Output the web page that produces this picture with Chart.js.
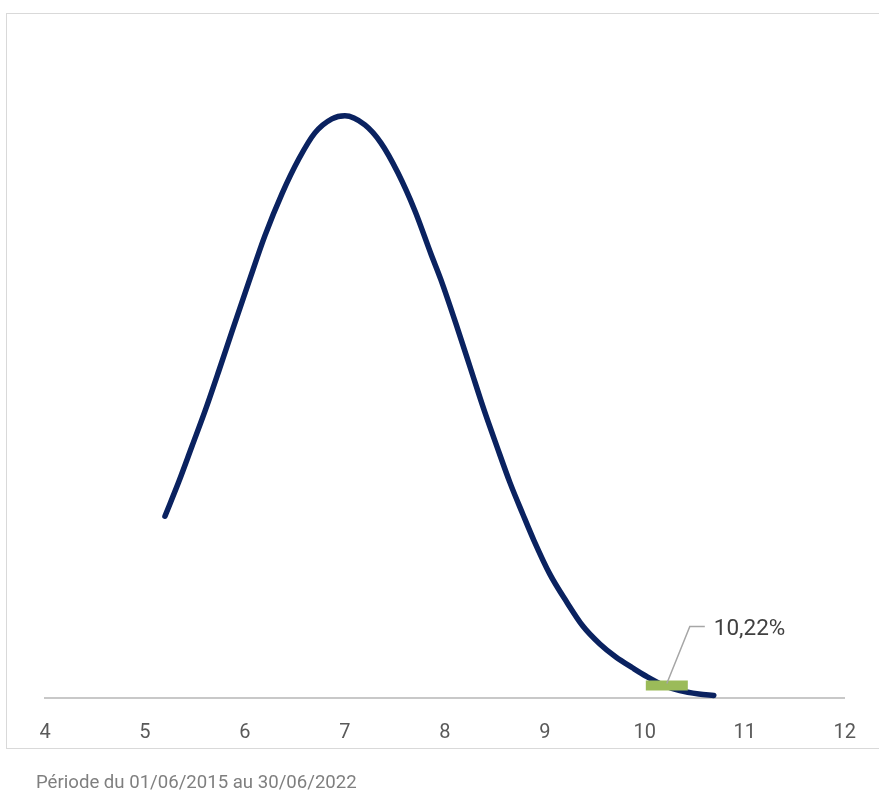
<!DOCTYPE html>
<html>
<head>
<meta charset="utf-8">
<script src="https://cdn.jsdelivr.net/npm/chart.js@4"></script>
<style>
  html, body { margin: 0; padding: 0; background: #fff; width: 879px; height: 792px; overflow: hidden; }
  #box { position: absolute; left: 6px; top: 13px; width: 900px; height: 734px;
         border-left: 1.5px solid #d9d9d9; border-top: 1.5px solid #d9d9d9; border-bottom: 1.5px solid #d9d9d9; }
  #c { position: absolute; left: 0; top: 0; }
  #foot { position: absolute; left: 36px; top: 771px; font-family: Roboto, sans-serif; font-size: 18.6px; color: #7f7f7f; white-space: nowrap; }
</style>
</head>
<body>
<div id="box"></div>
<canvas id="c" width="879" height="782"></canvas>
<div id="foot">Période du 01/06/2015 au 30/06/2022</div>
<script>
// Distribution curve
const curveX = [5.20, 5.34, 5.47, 5.61, 5.74, 5.87, 6.04, 6.20, 6.37, 6.54, 6.70, 6.87, 7.00,
                7.20, 7.36, 7.53, 7.70, 7.86, 7.96, 8.13, 8.26, 8.39, 8.52, 8.65, 8.78, 8.89,
                9.05, 9.22, 9.38, 9.55, 9.71, 9.88, 10.01, 10.18, 10.35, 10.54, 10.69];
const curveY = [0.1074, 0.1280, 0.1487, 0.1711, 0.1935, 0.2165, 0.2460, 0.2732, 0.2979, 0.3186, 0.3339, 0.3422, 0.3440,
                0.3386, 0.3280, 0.3103, 0.2879, 0.2625, 0.2472, 0.2177, 0.1941, 0.1705, 0.1487, 0.1274, 0.1086, 0.0932,
                0.0732, 0.0566, 0.0425, 0.0319, 0.0242, 0.0177, 0.0130, 0.0077, 0.0044, 0.0024, 0.0015];
// Highlighted value
const markerX = [10.22];
const markerY = [0.0074];
const markerLabels = ['10,22%'];
// Axis
const xTicks = [4, 5, 6, 7, 8, 9, 10, 11, 12];

const curveData = curveX.map((x, i) => ({ x: x, y: curveY[i] }));
const markerData = markerX.map((x, i) => ({ x: x, y: markerY[i] }));

const labelPlugin = {
  id: 'markerLabel',
  afterDatasetsDraw(chart) {
    const meta = chart.getDatasetMeta(1);
    const ctx = chart.ctx;
    meta.data.forEach((pt, i) => {
      const px = pt.x, py = pt.y;
      ctx.save();
      ctx.strokeStyle = '#a6a6a6';
      ctx.lineWidth = 1.5;
      ctx.beginPath();
      ctx.moveTo(px, py - 2);
      ctx.lineTo(px + 23, py - 59);
      ctx.lineTo(px + 38, py - 59);
      ctx.stroke();
      ctx.fillStyle = '#404040';
      ctx.font = '22.5px Roboto, sans-serif';
      ctx.textAlign = 'left';
      ctx.textBaseline = 'middle';
      ctx.fillText(markerLabels[i], px + 47, py - 56);
      ctx.restore();
    });
  }
};

new Chart(document.getElementById('c'), {
  type: 'scatter',
  data: {
    datasets: [
      {
        data: curveData,
        showLine: true,
        borderColor: '#0a2260',
        borderWidth: 5.5,
        borderCapStyle: 'round',
        borderJoinStyle: 'round',
        cubicInterpolationMode: 'monotone',
        pointRadius: 0,
        pointHoverRadius: 0,
        fill: false,
        clip: false,
        order: 2
      },
      {
        data: markerData,
        showLine: false,
        pointStyle: 'line',
        pointRadius: 21,
        pointBorderWidth: 10,
        pointBorderColor: '#9bbb59',
        pointBackgroundColor: '#9bbb59',
        pointHoverRadius: 21,
        clip: false,
        order: 1
      }
    ]
  },
  options: {
    responsive: false,
    animation: false,
    devicePixelRatio: 1,
    layout: { autoPadding: false, padding: { left: 45, right: 25, top: 21, bottom: 14 } },
    plugins: { legend: { display: false }, tooltip: { enabled: false } },
    scales: {
      x: {
        type: 'linear',
        min: 4, max: 12,
        afterBuildTicks(scale) { scale.ticks = xTicks.map(v => ({ value: v })); },
        grid: { display: false, drawTicks: false },
        border: { display: true, color: '#c8c8c8', width: 2 },
        ticks: { color: '#595959', font: { family: 'Roboto', size: 20 }, padding: 23, maxRotation: 0, autoSkip: false }
      },
      y: {
        display: false,
        min: 0, max: 0.4
      }
    }
  },
  plugins: [labelPlugin]
});
</script>
</body>
</html>
